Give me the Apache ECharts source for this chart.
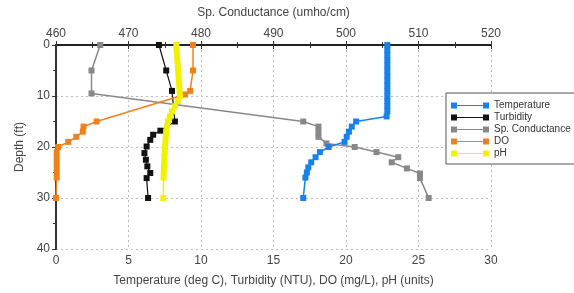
<!DOCTYPE html>
<html>
<head>
<meta charset="utf-8">
<script src="https://cdn.jsdelivr.net/npm/echarts@6/dist/echarts.min.js"></script>
<style>
  html, body { margin: 0; padding: 0; background: #fff; }
  #chart { width: 574px; height: 293px; }
</style>
</head>
<body>
<div id="chart"></div>
<script>
// depth profile readings
const tempDepth = [0, 1, 2, 3, 4, 5, 6, 7, 8, 9, 10, 11, 12, 13, 14, 15, 16, 17, 18, 19, 20, 21, 22, 23, 24, 25, 26, 30]
const tempVal = [22.85, 22.85, 22.85, 22.85, 22.85, 22.85, 22.85, 22.85, 22.85, 22.85, 22.85, 22.85, 22.85, 22.85, 22.8,
  20.7, 20.4, 20.2, 20.05, 19.9, 18.8, 18.2, 17.9, 17.6, 17.4, 17.3, 17.2, 17.05]

const turbDepth = [0, 5, 9, 15, 16.8, 17.6, 18.6, 19.9, 21.2, 22.5, 23.8, 25.1, 26.1, 30]
const turbVal = [7.1, 7.6, 8.0, 8.2, 7.2, 6.7, 6.5, 6.25, 6.1, 6.2, 6.3, 6.5, 6.25, 6.35]

const condDepth = [0, 5, 9.5, 15, 16, 17, 18, 19.3, 20, 21, 22, 23, 24.2, 25.2, 26.1, 30]
const condVal = [466.1, 464.9, 464.9, 494.1, 496.2, 496.2, 496.2, 497.3, 501.2, 504.2, 507.2, 506.3, 508.4, 510.2, 510.2, 511.4]

const doDepth = [0, 5, 9, 9.7, 15, 16, 17, 18, 19, 20, 21, 22, 23, 24, 25, 26, 30]
const doVal = [9.45, 9.45, 9.25, 8.9, 2.8, 1.9, 1.85, 1.4, 0.85, 0.15, 0.05, 0.05, 0.05, 0.05, 0.05, 0.05, 0.0]

const phDepth = [0, 1, 2, 3, 4, 5, 6, 7, 8, 9, 10, 11, 12, 13, 14, 15, 16, 17, 18, 19, 20, 21, 22, 23, 24, 25, 26, 30]
const phVal = [8.3, 8.32, 8.35, 8.37, 8.4, 8.42, 8.45, 8.47, 8.5, 8.52, 8.55, 8.4, 8.2, 8.0, 7.85,
  7.72, 7.65, 7.6, 7.57, 7.55, 7.52, 7.5, 7.48, 7.46, 7.45, 7.43, 7.42, 7.4]

const seriesNames = ['Temperature', 'Turbidity', 'Sp. Conductance', 'DO', 'pH']
const colors = ['#1682ee', '#111111', '#888888', '#f2801a', '#f2f200']

const font = 'Liberation Sans'
const axisText = { color: '#444', fontSize: 12, fontFamily: font }

function pairs(vals, depths) {
  return vals.map((v, i) => [v, depths[i]])
}

function makeSeries(idx, vals, depths, xAxisIndex, lw) {
  return {
    name: seriesNames[idx],
    type: 'line',
    xAxisIndex: xAxisIndex,
    data: pairs(vals, depths),
    symbol: 'rect',
    symbolSize: 6,
    showSymbol: true,
    lineStyle: { color: colors[idx], width: lw },
    itemStyle: { color: colors[idx] },
    animation: false
  }
}

const chart = echarts.init(document.getElementById('chart'))
chart.setOption({
  color: colors,
  animation: false,
  grid: { left: 56, right: 83, top: 45, bottom: 44 },
  legend: {
    orient: 'vertical',
    left: 446,
    top: 93,
    padding: [7, 8, 5, 5],
    borderColor: '#555',
    borderWidth: 1,
    backgroundColor: '#fff',
    itemWidth: 38,
    itemHeight: 6,
    itemGap: 1,
    icon: 'path://M0,0h6v6h-6z M32,0h6v6h-6z M6,2.4h26v1.2h-26z',
    textStyle: { fontSize: 10, lineHeight: 11, color: '#333', fontFamily: font },
    data: seriesNames
  },
  xAxis: [{
    type: 'value',
    position: 'bottom',
    min: 0,
    max: 30,
    interval: 5,
    name: 'Temperature (deg C), Turbidity (NTU), DO (mg/L), pH (units)',
    nameLocation: 'middle',
    nameGap: 26,
    nameTextStyle: axisText,
    axisLine: { lineStyle: { color: '#333', width: 2 } },
    axisTick: { show: true, length: 4, lineStyle: { color: '#333' } },
    minorTick: { show: true, splitNumber: 2, length: 3, lineStyle: { color: '#333' } },
    axisLabel: Object.assign({ margin: 6 }, axisText),
    splitLine: { show: true, lineStyle: { color: '#bbb', type: [2, 3], width: 1 } }
  }, {
    type: 'value',
    position: 'top',
    min: 460,
    max: 520,
    interval: 10,
    name: 'Sp. Conductance (umho/cm)',
    nameLocation: 'middle',
    nameGap: 26,
    nameTextStyle: axisText,
    axisLine: { lineStyle: { color: '#222', width: 2, type: [3, 1] } },
    axisTick: { show: true, length: 4, lineStyle: { color: '#333' } },
    minorTick: { show: true, splitNumber: 2, length: 3, lineStyle: { color: '#333' } },
    axisLabel: Object.assign({ margin: 5 }, axisText),
    splitLine: { show: false }
  }],
  yAxis: {
    type: 'value',
    inverse: true,
    min: 0,
    max: 40,
    interval: 10,
    name: 'Depth (ft)',
    nameLocation: 'middle',
    nameGap: 27,
    nameTextStyle: axisText,
    axisLine: { lineStyle: { color: '#333', width: 2 } },
    axisTick: { show: true, length: 4, lineStyle: { color: '#333' } },
    minorTick: { show: true, splitNumber: 2, length: 3, lineStyle: { color: '#333' } },
    axisLabel: Object.assign({ margin: 6 }, axisText),
    splitLine: { show: true, lineStyle: { color: '#bbb', type: [2, 3], width: 1 } }
  },
  series: [
    makeSeries(2, condVal, condDepth, 1, 1.5),
    makeSeries(0, tempVal, tempDepth, 0, 1.5),
    makeSeries(1, turbVal, turbDepth, 0, 1.2),
    makeSeries(3, doVal, doDepth, 0, 1.5),
    makeSeries(4, phVal, phDepth, 0, 1.5)
  ]
})
</script>
</body>
</html>
